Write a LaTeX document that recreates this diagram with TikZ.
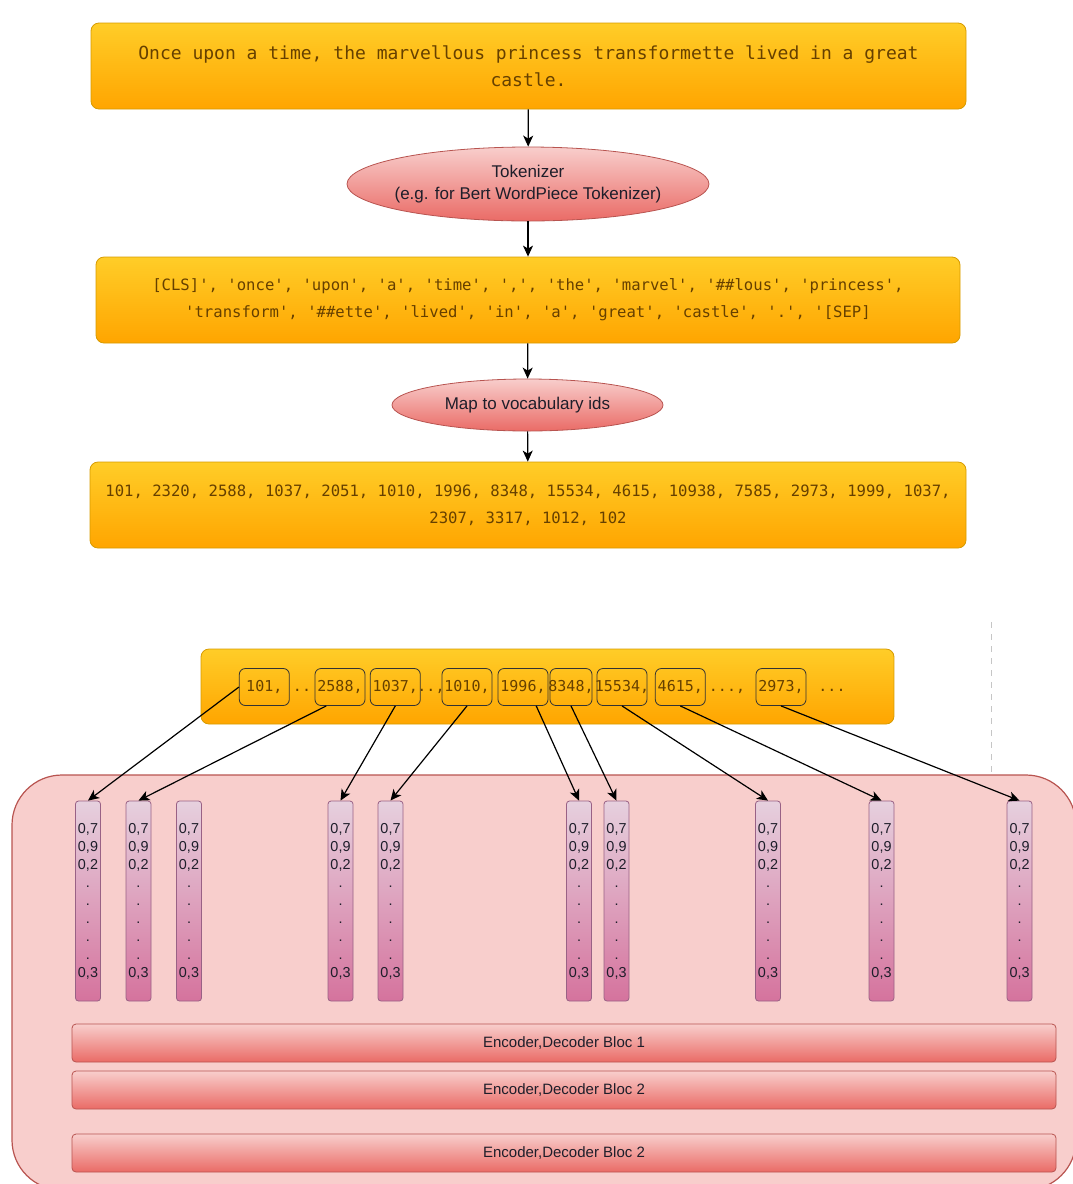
\documentclass[tikz,border=0pt]{standalone}
\usepackage{fontspec}
\setmonofont{DejaVu Sans Mono}
\newfontfamily\labelfont{Liberation Sans}
\usetikzlibrary{arrows.meta,shapes.geometric}
\definecolor{orangetop}{HTML}{FFCD28}
\definecolor{orangebot}{HTML}{FFA500}
\definecolor{orangeline}{HTML}{D79B00}
\definecolor{redtop}{HTML}{F8CECC}
\definecolor{redbot}{HTML}{EA6B66}
\definecolor{redline}{HTML}{B85450}
\definecolor{vectop}{HTML}{E6D0DE}
\definecolor{vecbot}{HTML}{D5739D}
\definecolor{vecline}{HTML}{996185}
\definecolor{tokbrown}{HTML}{664000}
\definecolor{inkdark}{HTML}{1E1E2A}
\newcommand{\embvals}{0,7\\0,9\\0,2\\.\\.\\.\\.\\.\\0,3}
\newcommand{\tok}[1]{\makebox[0pt]{#1}}

\begin{document}
\begin{tikzpicture}[x=0.5pt,y=-0.5pt,
  textbox/.style={draw=orangeline, top color=orangetop, bottom color=orangebot, rounded corners=4pt,
    align=center, text=tokbrown, font=\ttfamily\fontsize{7.8}{13.5}\selectfont, minimum height=43pt},
  tokenizer/.style={ellipse, draw=redline, top color=redtop, bottom color=redbot, align=center,
    text=inkdark, font=\labelfont\fontsize{8.5}{11}\selectfont, inner xsep=-4pt, inner ysep=0pt},
  tokbox/.style={draw=black!80, rounded corners=3pt, minimum width=25pt, minimum height=18.5pt,
    inner sep=0pt, text height=5.6pt, text depth=1.2pt, text=tokbrown, font=\ttfamily\fontsize{7.5}{9}\selectfont},
  tokgap/.style={inner sep=0pt, text height=5.6pt, text depth=1.2pt, text=tokbrown,
    font=\ttfamily\fontsize{7.5}{9}\selectfont},
  embvec/.style={draw=vecline, top color=vectop, bottom color=vecbot, rounded corners=1.5pt,
    minimum width=12.5pt, minimum height=100pt, inner sep=0pt, align=center, text=inkdark,
    font=\labelfont\fontsize{7.2}{9}\selectfont},
  bloc/.style={draw=redline, top color=redtop, bottom color=redbot, rounded corners=2pt,
    minimum width=492pt, minimum height=19pt, text=inkdark, font=\labelfont\fontsize{7.5}{9}\selectfont},
  flow/.style={-{Stealth[length=5.5pt,width=5pt,inset=1.5pt]}, line width=0.6pt}
]
\useasboundingbox (0,0) rectangle (1072,1184);

\node[textbox, minimum width=437.5pt, font=\ttfamily\fontsize{9}{13.5}\selectfont] (story) at (528.5,66)
  {Once upon a time, the marvellous princess transformette lived in a great\\castle.};
\node[tokenizer, minimum width=181pt, minimum height=37pt] (tokenizer) at (528,184)
  {Tokenizer\\(e.g. for Bert WordPiece Tokenizer)};
\node[textbox, minimum width=432pt] (wordpieces) at (528,300)
  {[CLS]', 'once', 'upon', 'a', 'time', ',', 'the', 'marvel', '\#\#lous', 'princess',\\
   'transform', '\#\#ette', 'lived', 'in', 'a', 'great', 'castle', '.', '[SEP]};
\node[tokenizer, minimum width=135.5pt, minimum height=26pt] (mapids) at (527.5,405) {Map to vocabulary ids};
\node[textbox, minimum width=438pt] (ids) at (528,505)
  {101, 2320, 2588, 1037, 2051, 1010, 1996, 8348, 15534, 4615, 10938, 7585, 2973, 1999, 1037,\\
   2307, 3317, 1012, 102};

\draw[flow] (story) -- (tokenizer);
\draw[flow] (tokenizer) -- (wordpieces);
\draw[flow] (wordpieces) -- (mapids);
\draw[flow] (mapids) -- (ids);

\coordinate (guidetop) at (991,622);
\coordinate (guidebot) at (991,774);
\draw[dashed, gray!45, line width=0.5pt] (guidetop) -- (guidebot);

\filldraw[fill=redtop, draw=redline, line width=0.6pt, rounded corners=25pt] (12,775) rectangle (1076,1190);

\node[textbox, minimum width=346.5pt, minimum height=37.5pt] (idrow) at (547.5,686.5) {};
\node[tokbox] (t101) at (264.3,687) {\tok{101,}};
\node[tokgap] (gap1) at (302,687) {..};
\node[tokbox] (t2588) at (340,687) {\tok{2588,}};
\node[tokbox] (t1037) at (395.3,687) {\tok{1037,}};
\node[tokgap] (gap2) at (431,687) {..,};
\node[tokbox] (t1010) at (467,687) {\tok{1010,}};
\node[tokbox] (t1996) at (523,687) {\tok{1996,}};
\node[tokbox, minimum width=21pt] (t8348) at (571,687) {\tok{8348,}};
\node[tokbox] (t15534) at (622,687) {\tok{15534,}};
\node[tokbox] (t4615) at (680.3,687) {\tok{4615,}};
\node[tokgap] (gap3) at (727,687) {...,};
\node[tokbox] (t2973) at (781,687) {\tok{2973,}};
\node[tokgap] (gap4) at (832,687) {...};

\node[embvec] (v1) at (88,901) {\embvals};
\node[embvec] (v2) at (138.5,901) {\embvals};
\node[embvec] (v3) at (189,901) {\embvals};
\node[embvec] (v4) at (340.5,901) {\embvals};
\node[embvec] (v5) at (390.5,901) {\embvals};
\node[embvec] (v6) at (579,901) {\embvals};
\node[embvec] (v7) at (616.5,901) {\embvals};
\node[embvec] (v8) at (768,901) {\embvals};
\node[embvec] (v9) at (881.5,901) {\embvals};
\node[embvec] (v10) at (1019.5,901) {\embvals};

\draw[flow] (t101.west) -- (v1.north);
\draw[flow] (t2588.234) -- (v2.north);
\draw[flow] (t1037.south) -- (v4.north);
\draw[flow] (t1010.south) -- (v5.north);
\draw[flow] (t1996.305) -- (v6.north);
\draw[flow] (t8348.south) -- (v7.north);
\draw[flow] (t15534.south) -- (v8.north);
\draw[flow] (t4615.south) -- (v9.north);
\draw[flow] (t2973.south) -- (v10.north);

\node[bloc] (bloc1) at (564,1043) {Encoder,Decoder Bloc 1};
\node[bloc] (bloc2) at (564,1090) {Encoder,Decoder Bloc 2};
\node[bloc] (bloc3) at (564,1153) {Encoder,Decoder Bloc 2};
\end{tikzpicture}
\end{document}
